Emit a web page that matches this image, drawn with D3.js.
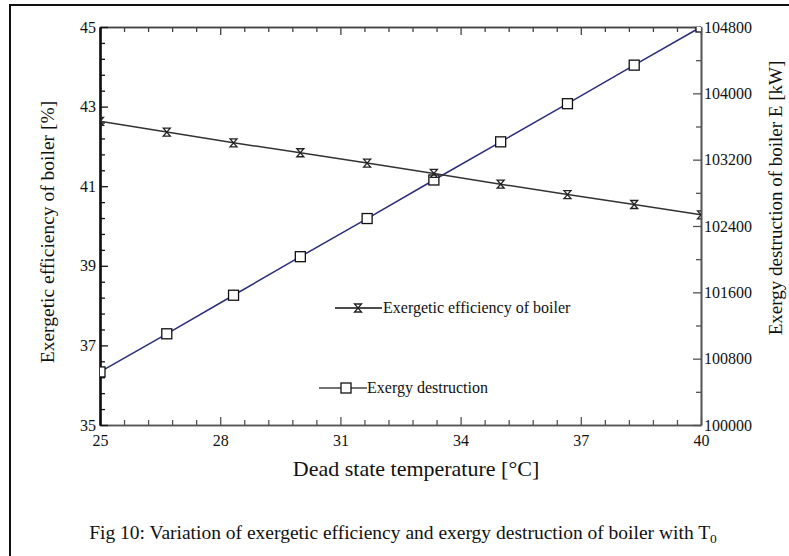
<!DOCTYPE html>
<html>
<head>
<meta charset="utf-8">
<script src="https://cdn.jsdelivr.net/npm/d3@7"></script>
<style>
  html, body { margin: 0; padding: 0; background: #fff; }
  svg { display: block; }
</style>
</head>
<body>
<svg id="chart" width="789" height="556"></svg>
<script>
// Dead state temperature (°C)
const temperature = [25, 26.667, 28.333, 30, 31.667, 33.333, 35, 36.667, 38.333, 40];
// Exergetic efficiency of boiler (%)
const efficiency = [42.63, 42.36, 42.09, 41.84, 41.58, 41.32, 41.05, 40.79, 40.54, 40.28];
// Exergy destruction of boiler (kW)
const destruction = [100640, 101100, 101565, 102030, 102490, 102955, 103415, 103875, 104340, 104800];

const xMajor = [25, 28, 31, 34, 37, 40];
const yLeftMajor = [35, 37, 39, 41, 43, 45];
const yRightMajor = [100000, 100800, 101600, 102400, 103200, 104000, 104800];

const SERIF = "Liberation Serif";

const svg = d3.select("#chart");
const W = 789, H = 556;
const plot = { left: 100, right: 701, top: 27, bottom: 425 };

svg.append("rect").attr("width", W).attr("height", H).attr("fill", "#fff");

// page frame
svg.append("rect")
  .attr("x", 10).attr("y", 5).attr("width", 800).attr("height", 580)
  .attr("fill", "none").attr("stroke", "#111").attr("stroke-width", 2);

const x = d3.scaleLinear().domain([25, 40]).range([plot.left, plot.right]);
const yL = d3.scaleLinear().domain([35, 45]).range([plot.bottom, plot.top]);
const yR = d3.scaleLinear().domain([100000, 104800]).range([plot.bottom, plot.top]);

const xMinor = d3.range(25, 40.0001, 0.6).filter(v => !xMajor.some(m => Math.abs(m - v) < 1e-6));
const yLMinor = d3.range(35, 45.0001, 0.4).filter(v => !yLeftMajor.some(m => Math.abs(m - v) < 1e-6));
const yRMinor = d3.range(100000, 104800.1, 400).filter(v => !yRightMajor.includes(v));

function label(sel, size) {
  return sel.style("font-family", SERIF).style("font-size", size + "px").attr("fill", "#111");
}

function styleAxis(g, color, width) {
  g.selectAll(".domain").attr("stroke", color).attr("stroke-width", width);
  g.selectAll(".tick line").attr("stroke", color).attr("stroke-width", 1.3);
  label(g.selectAll(".tick text"), 16);
}

// bottom axis
svg.append("g").attr("transform", `translate(0,${plot.bottom})`)
  .call(d3.axisBottom(x).tickValues(xMajor).tickSize(-8).tickSizeOuter(0).tickPadding(10).tickFormat(d3.format("d")))
  .call(g => styleAxis(g, "#555", 1.6));
svg.append("g").attr("transform", `translate(0,${plot.bottom})`)
  .call(d3.axisBottom(x).tickValues(xMinor).tickSize(-5).tickSizeOuter(0).tickFormat(""))
  .call(g => styleAxis(g, "#555", 1.6));

// top axis (ticks only)
svg.append("g").attr("transform", `translate(0,${plot.top})`)
  .call(d3.axisTop(x).tickValues(xMajor).tickSize(-8).tickSizeOuter(0).tickFormat(""))
  .call(g => styleAxis(g, "#444", 1.6));
svg.append("g").attr("transform", `translate(0,${plot.top})`)
  .call(d3.axisTop(x).tickValues(xMinor).tickSize(-5).tickSizeOuter(0).tickFormat(""))
  .call(g => styleAxis(g, "#444", 1.6));

// right axis
svg.append("g").attr("transform", `translate(${plot.right},0)`)
  .call(d3.axisRight(yR).tickValues(yRightMajor).tickSize(-8).tickSizeOuter(0).tickPadding(3).tickFormat(d3.format("d")))
  .call(g => styleAxis(g, "#555", 1.6));
svg.append("g").attr("transform", `translate(${plot.right},0)`)
  .call(d3.axisRight(yR).tickValues(yRMinor).tickSize(-5).tickSizeOuter(0).tickFormat(""))
  .call(g => styleAxis(g, "#555", 1.6));

// left axis
svg.append("g").attr("transform", `translate(${plot.left},0)`)
  .call(d3.axisLeft(yL).tickValues(yLeftMajor).tickSize(-8).tickSizeOuter(0).tickPadding(4).tickFormat(d3.format("d")))
  .call(g => styleAxis(g, "#111", 2.2));
svg.append("g").attr("transform", `translate(${plot.left},0)`)
  .call(d3.axisLeft(yL).tickValues(yLMinor).tickSize(-5).tickSizeOuter(0).tickFormat(""))
  .call(g => styleAxis(g, "#111", 2.2));

// axis titles
label(svg.append("text"), 22).attr("x", 416).attr("y", 476).attr("text-anchor", "middle")
  .text("Dead state temperature [°C]");
label(svg.append("text"), 19.5).attr("transform", "translate(54,232) rotate(-90)").attr("text-anchor", "middle")
  .text("Exergetic efficiency of boiler [%]");
label(svg.append("text"), 19).attr("transform", "translate(782,198) rotate(-90)").attr("text-anchor", "middle")
  .text("Exergy destruction of boiler E [kW]");

// caption
const cap = label(svg.append("text"), 19.5).attr("x", 403).attr("y", 539).attr("text-anchor", "middle");
cap.append("tspan").text("Fig 10: Variation of exergetic efficiency and exergy destruction of boiler with T");
cap.append("tspan").attr("dy", 4).style("font-size", "13.5px").text("0");

// plot-area clip for the series markers
svg.append("clipPath").attr("id", "plot-clip").append("rect")
  .attr("x", plot.left).attr("y", plot.top)
  .attr("width", plot.right - plot.left).attr("height", plot.bottom - plot.top);

// marker shapes
const hourglass = "M-3.5,-4H3.5L-3.5,4H3.5Z";
function drawSquare(g, cx, cy) {
  g.append("rect").attr("x", cx - 5).attr("y", cy - 5).attr("width", 10).attr("height", 10)
    .attr("fill", "#fff").attr("stroke", "#111").attr("stroke-width", 1.3);
}
function drawHourglass(g, cx, cy) {
  g.append("path").attr("d", hourglass).attr("transform", `translate(${cx},${cy})`)
    .attr("fill", "none").attr("stroke", "#222").attr("stroke-width", 1.3);
}

// exergy destruction series
const lineR = d3.line().x((d, i) => x(temperature[i])).y(d => yR(d));
svg.append("path").datum(destruction).attr("d", lineR)
  .attr("fill", "none").attr("stroke", "#2c2c7c").attr("stroke-width", 1.5);
const gSq = svg.append("g").attr("clip-path", "url(#plot-clip)");
destruction.forEach((d, i) => drawSquare(gSq, x(temperature[i]), yR(d)));

// exergetic efficiency series
const lineL = d3.line().x((d, i) => x(temperature[i])).y(d => yL(d));
svg.append("path").datum(efficiency).attr("d", lineL)
  .attr("fill", "none").attr("stroke", "#333").attr("stroke-width", 1.5);
const gHg = svg.append("g").attr("clip-path", "url(#plot-clip)");
efficiency.forEach((d, i) => drawHourglass(gHg, x(temperature[i]), yL(d)));

// legend
const leg = svg.append("g");
leg.append("line").attr("x1", 335).attr("x2", 382).attr("y1", 308).attr("y2", 308)
  .attr("stroke", "#111").attr("stroke-width", 1.3);
drawHourglass(leg, 358, 308);
label(leg.append("text"), 16).attr("x", 383).attr("y", 313).text("Exergetic efficiency of boiler");

leg.append("line").attr("x1", 319).attr("x2", 367).attr("y1", 388).attr("y2", 388)
  .attr("stroke", "#444").attr("stroke-width", 1.3);
drawSquare(leg, 346, 388);
label(leg.append("text"), 16).attr("x", 367).attr("y", 393).text("Exergy destruction");
</script>
</body>
</html>
